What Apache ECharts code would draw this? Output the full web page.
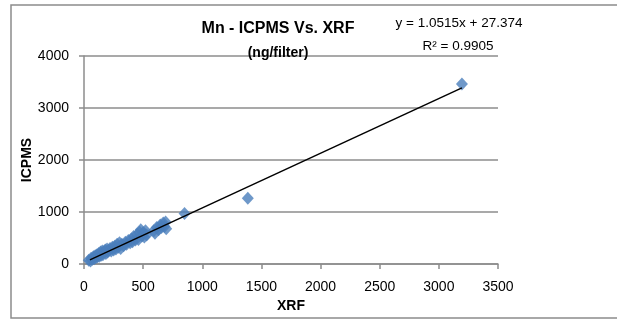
<!DOCTYPE html>
<html>
<head>
<meta charset="utf-8">
<script src="https://cdn.jsdelivr.net/npm/echarts@6/dist/echarts.min.js"></script>
<style>
  html, body { margin: 0; padding: 0; background: #fff; }
  #chart { width: 617px; height: 323px; }
</style>
</head>
<body>
<div id="chart"></div>
<script>
// Mn measured on filters: XRF (x) against ICPMS (y), ng/filter
const xrf = [40, 55, 60, 70, 80, 85, 95, 100, 110, 115, 125, 130, 140, 145, 155, 160, 170, 180, 185,
  195, 200, 210, 220, 230, 240, 250, 260, 270, 280, 290, 300, 310, 320, 335, 350, 360, 375, 390,
  400, 410, 420, 435, 450, 460, 470, 480, 490, 500, 510, 520, 530, 590, 600, 615, 630, 645, 655,
  670, 680, 690, 695, 850, 1385, 3195];
const icpms = [70, 60, 110, 90, 140, 100, 160, 120, 180, 140, 200, 150, 230, 170, 250, 180, 240, 270, 200,
  290, 230, 260, 300, 250, 320, 270, 340, 290, 380, 320, 410, 300, 380, 350, 420, 380, 450, 410,
  480, 430, 530, 460, 570, 470, 610, 660, 540, 600, 520, 640, 560, 640, 590, 700, 660, 750, 700,
  790, 720, 810, 680, 970, 1265, 3460];

// Linear least-squares fit reported on the chart
const slope = 1.0515;
const intercept = 27.374;
const rSquared = 0.9905;

const xTicks = { min: 0, max: 3500, interval: 500 };
const yTicks = { min: 0, max: 4000, interval: 1000 };

const points = xrf.map((x, i) => [x, icpms[i]]);
const xLo = 50, xHi = Math.max(...xrf);
const fitLine = [[xLo, slope * xLo + intercept], [xHi, slope * xHi + intercept]];

const font = '"Liberation Sans", Arial, sans-serif';
const gridGrey = '#8c8c8c';

const chart = echarts.init(document.getElementById('chart'), null, { renderer: 'canvas' });
chart.setOption({
  animation: false,
  backgroundColor: '#fff',
  graphic: [{
    type: 'rect',
    shape: { x: 11, y: 5, width: 700, height: 313 },
    style: { fill: 'none', stroke: '#8c8c8c', lineWidth: 1.5 },
    z: 0
  }],
  title: [{
    text: 'Mn - ICPMS Vs. XRF',
    left: 273, top: 16, textAlign: 'center',
    textStyle: { fontFamily: font, fontSize: 16, fontWeight: 'bold', color: '#000' }
  }, {
    text: '(ng/filter)',
    left: 273, top: 41, textAlign: 'center',
    textStyle: { fontFamily: font, fontSize: 14, fontWeight: 'bold', color: '#000' }
  }, {
    text: 'y = ' + slope + 'x + ' + intercept,
    left: 454, top: 11, textAlign: 'center',
    textStyle: { fontFamily: font, fontSize: 13.5, fontWeight: 'normal', color: '#000' }
  }, {
    text: 'R² = ' + rSquared,
    left: 453, top: 34, textAlign: 'center',
    textStyle: { fontFamily: font, fontSize: 13.5, fontWeight: 'normal', color: '#000' }
  }],
  grid: { left: 84, right: 119, top: 56, bottom: 59 },
  xAxis: {
    type: 'value',
    min: xTicks.min, max: xTicks.max, interval: xTicks.interval,
    name: 'XRF', nameLocation: 'middle', nameGap: 35, nameMoveOverlap: false,
    nameTextStyle: { fontFamily: font, fontSize: 14, fontWeight: 'bold', color: '#000' },
    axisLine: { show: true, lineStyle: { color: gridGrey, width: 1.5 } },
    axisTick: { show: true, length: 5, lineStyle: { color: gridGrey, width: 1.5 } },
    axisLabel: { fontFamily: font, fontSize: 14, color: '#000', margin: 16, formatter: v => String(v) },
    splitLine: { show: false }
  },
  yAxis: {
    type: 'value',
    min: yTicks.min, max: yTicks.max, interval: yTicks.interval,
    name: 'ICPMS', nameLocation: 'middle', nameGap: 50, nameRotate: 90, nameMoveOverlap: false,
    nameTextStyle: { fontFamily: font, fontSize: 14, fontWeight: 'bold', color: '#000' },
    axisLine: { show: true, lineStyle: { color: gridGrey, width: 1.5 } },
    axisTick: { show: true, length: 5, lineStyle: { color: gridGrey, width: 1.5 } },
    axisLabel: { fontFamily: font, fontSize: 14, color: '#000', margin: 15, formatter: v => String(v) },
    splitLine: { show: true, lineStyle: { color: gridGrey, width: 1.5 } }
  },
  series: [{
    type: 'scatter',
    data: points,
    symbol: 'diamond',
    symbolSize: [12, 13],
    itemStyle: { color: '#4a7ebb' },
    z: 2
  }, {
    type: 'line',
    data: fitLine,
    showSymbol: false,
    symbol: 'none',
    lineStyle: { color: '#000', width: 1.5 },
    z: 3
  }]
});
</script>
</body>
</html>
